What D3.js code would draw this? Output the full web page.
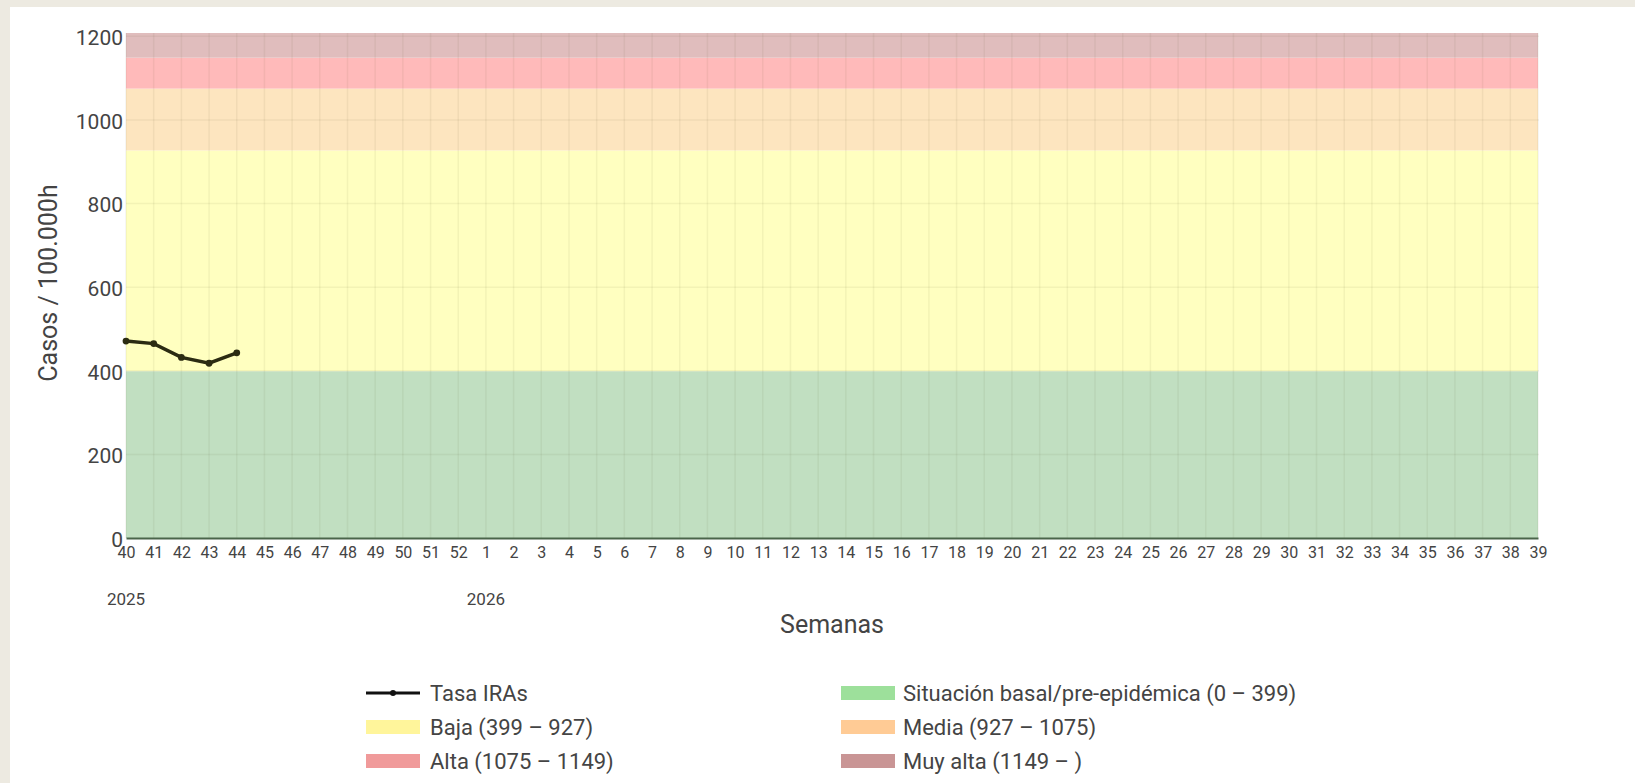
<!DOCTYPE html>
<html>
<head>
<meta charset="utf-8">
<script src="https://cdn.jsdelivr.net/npm/d3@7"></script>
<style>
  body { margin: 0; background: #edeae1; font-family: Roboto, "Noto Sans", sans-serif; }
  svg { display: block; }
</style>
</head>
<body>
<div id="chart"></div>
<script>
const WIDTH = 1635;
const HEIGHT = 783;
const PLOT = { LEFT: 126, RIGHT: 1538, TOP: 33, BOTTOM: 538 };
const Y_MAX = 1208;

// semanas epidemiologicas 40/2025 .. 39/2026
const weeks = ['40','41','42','43','44','45','46','47','48','49','50','51','52',
  '1','2','3','4','5','6','7','8','9','10','11','12','13','14','15','16','17','18','19',
  '20','21','22','23','24','25','26','27','28','29','30','31','32','33','34','35','36','37','38','39'];
const yearLabels = ['2025', '2026'];
const yearWeeks = ['40', '1'];

const tasaWeeks = ['40', '41', '42', '43', '44'];
const tasaValues = [471, 465, 432, 418, 443];

const yTicks = [0, 200, 400, 600, 800, 1000, 1200];

const bandNames = ['Situación basal/pre-epidémica (0 – 399)', 'Baja (399 – 927)', 'Media (927 – 1075)',
  'Alta (1075 – 1149)', 'Muy alta (1149 – )'];
const bandFrom = [0, 399, 927, 1075, 1149];
const bandTo = [399, 927, 1075, 1149, Y_MAX];
const bandFill = ['#c1dfc1', '#ffffc0', '#fde5bf', '#ffbaba', '#e0bdbd'];
const bandSwatch = ['#9de09b', '#fff59b', '#ffcb95', '#f09a9a', '#c99595'];

const svg = d3.select('#chart').append('svg')
  .attr('width', WIDTH)
  .attr('height', HEIGHT);

// tarjeta blanca
svg.append('rect')
  .attr('x', 10).attr('y', 7)
  .attr('width', WIDTH - 10).attr('height', HEIGHT - 7)
  .attr('fill', '#fff');

const xscale = d3.scalePoint().domain(weeks).range([PLOT.LEFT, PLOT.RIGHT]);
const yscale = d3.scaleLinear().domain([0, Y_MAX]).range([PLOT.BOTTOM, PLOT.TOP]);

// bandas de umbral
svg.append('g').selectAll('rect')
  .data(bandFrom)
  .enter()
  .append('rect')
  .attr('x', PLOT.LEFT)
  .attr('width', PLOT.RIGHT - PLOT.LEFT)
  .attr('y', (d, i) => yscale(bandTo[i]))
  .attr('height', (d, i) => yscale(d) - yscale(bandTo[i]))
  .attr('fill', (d, i) => bandFill[i]);

// rejilla
const grid = svg.append('g').attr('stroke', 'rgba(90,80,40,0.07)').attr('stroke-width', 1.5);
grid.selectAll('.vline')
  .data(weeks)
  .enter()
  .append('line')
  .attr('class', 'vline')
  .attr('x1', d => xscale(d)).attr('x2', d => xscale(d))
  .attr('y1', PLOT.TOP).attr('y2', PLOT.BOTTOM);
grid.selectAll('.hline')
  .data(yTicks.filter(d => d > 0))
  .enter()
  .append('line')
  .attr('class', 'hline')
  .attr('x1', PLOT.LEFT).attr('x2', PLOT.RIGHT + 1)
  .attr('y1', d => yscale(d)).attr('y2', d => yscale(d));

// ejes
const yAxis = svg.append('g')
  .attr('transform', `translate(${PLOT.LEFT}, 0)`)
  .call(d3.axisLeft(yscale).tickValues(yTicks).tickFormat(d3.format('d')).tickSize(0).tickPadding(3));
yAxis.select('.domain').remove();
yAxis.selectAll('text')
  .attr('font-family', 'Roboto, sans-serif')
  .attr('font-size', 21)
  .attr('fill', '#444')
  .attr('dy', '0.4em');

const xAxis = svg.append('g')
  .attr('transform', `translate(0, ${PLOT.BOTTOM})`)
  .call(d3.axisBottom(xscale).tickSize(0).tickPadding(9));
xAxis.select('.domain')
  .attr('stroke', '#4a654a')
  .attr('stroke-width', 2);
xAxis.selectAll('text')
  .attr('font-family', 'Roboto, sans-serif')
  .attr('font-size', 16)
  .attr('fill', '#444');

svg.append('g').selectAll('text')
  .data(yearLabels)
  .enter()
  .append('text')
  .attr('x', (d, i) => xscale(yearWeeks[i]))
  .attr('y', 605)
  .attr('text-anchor', 'middle')
  .attr('font-size', 17)
  .attr('fill', '#444')
  .text(d => d);

// titulos
svg.append('text')
  .attr('x', (PLOT.LEFT + PLOT.RIGHT) / 2)
  .attr('y', 633)
  .attr('text-anchor', 'middle')
  .attr('font-size', 25)
  .attr('fill', '#444')
  .text('Semanas');

svg.append('text')
  .attr('transform', 'translate(57, 283) rotate(-90)')
  .attr('text-anchor', 'middle')
  .attr('font-size', 25)
  .attr('fill', '#444')
  .text('Casos / 100.000h');

// serie
const line = d3.line()
  .x((d, i) => xscale(tasaWeeks[i]))
  .y(d => yscale(d));

svg.append('path')
  .datum(tasaValues)
  .attr('d', line)
  .attr('fill', 'none')
  .attr('stroke', '#2b2b12')
  .attr('stroke-width', 3.5);

svg.append('g').selectAll('circle')
  .data(tasaValues)
  .enter()
  .append('circle')
  .attr('cx', (d, i) => xscale(tasaWeeks[i]))
  .attr('cy', d => yscale(d))
  .attr('r', 3.4)
  .attr('fill', '#2b2b12');

// leyenda, dos columnas
const legendItems = ['Tasa IRAs'].concat(bandNames);
const legend = svg.append('g');
const colX = [366, 841];
const rowY = [693, 727, 761];

const items = legend.selectAll('g')
  .data(legendItems)
  .enter()
  .append('g')
  .attr('transform', (d, i) => `translate(${colX[i % 2]}, ${rowY[Math.floor(i / 2)]})`);

items.each(function(d, i) {
  const g = d3.select(this);
  if (i === 0) {
    g.append('line').attr('x1', 0).attr('x2', 54).attr('y1', 0).attr('y2', 0)
      .attr('stroke', '#111').attr('stroke-width', 3);
    g.append('circle').attr('cx', 27).attr('cy', 0).attr('r', 3).attr('fill', '#111');
  } else {
    const k = bandNames.indexOf(d);
    g.append('rect').attr('x', 0).attr('y', -7).attr('width', 54).attr('height', 14)
      .attr('fill', bandSwatch[k]);
  }
  g.append('text')
    .attr('x', i % 2 === 0 ? 64 : 62)
    .attr('y', 8)
    .attr('font-size', 22)
    .attr('fill', '#444')
    .text(d);
});
</script>
</body>
</html>
